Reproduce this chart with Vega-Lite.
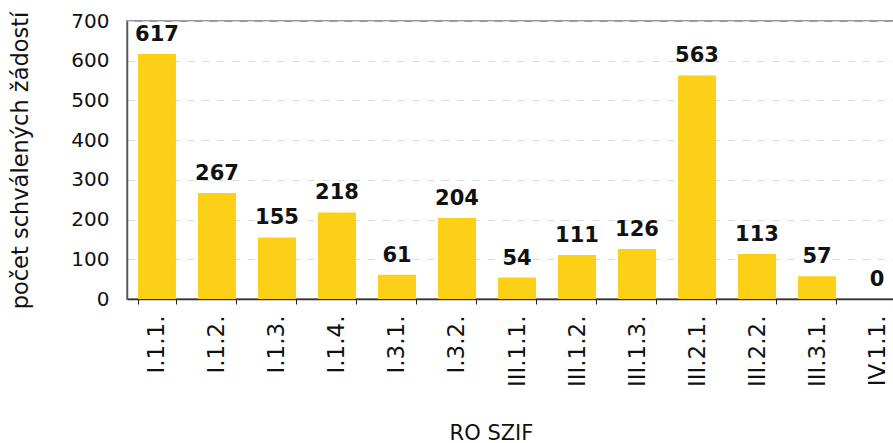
{
  "$schema": "https://vega.github.io/schema/vega-lite/v6.json",
  "autosize": "none",
  "width": 780,
  "height": 278,
  "padding": {"left": 127, "top": 21, "right": 0, "bottom": 144},
  "background": "white",
  "config": {
    "font": "DejaVu Sans",
    "view": {"stroke": "#999999", "strokeWidth": 2}
  },
  "data": {
    "values": [
      {"ro": "I.1.1.", "n": 617},
      {"ro": "I.1.2.", "n": 267},
      {"ro": "I.1.3.", "n": 155},
      {"ro": "I.1.4.", "n": 218},
      {"ro": "I.3.1.", "n": 61},
      {"ro": "I.3.2.", "n": 204},
      {"ro": "III.1.1.", "n": 54},
      {"ro": "III.1.2.", "n": 111},
      {"ro": "III.1.3.", "n": 126},
      {"ro": "III.2.1.", "n": 563},
      {"ro": "III.2.2.", "n": 113},
      {"ro": "III.3.1.", "n": 57},
      {"ro": "IV.1.1.", "n": 0}
    ]
  },
  "encoding": {
    "x": {
      "field": "ro",
      "type": "nominal",
      "sort": null,
      "scale": {"paddingInner": 0.367, "paddingOuter": 0.183},
      "axis": {
        "title": "RO SZIF",
        "titleFont": "DejaVu Sans",
        "titleFontSize": 21,
        "titleFontWeight": "normal",
        "titleColor": "#111111",
        "titleX": 364,
        "titleY": 140,
        "titleAlign": "center",
        "titleBaseline": "alphabetic",
        "labelAngle": -90,
        "labelAlign": "right",
        "labelBaseline": "middle",
        "labelFontSize": 23,
        "labelColor": "#111111",
        "labelPadding": 11,
        "tickBand": "extent",
        "tickSize": 5,
        "tickColor": "#222222",
        "domainColor": "#333333",
        "domainWidth": 1.5,
        "grid": false
      }
    },
    "y": {
      "field": "n",
      "type": "quantitative",
      "scale": {"domain": [0, 700], "nice": false},
      "axis": {
        "title": "počet schválených žádostí",
        "titleFont": "DejaVu Sans",
        "titleFontSize": 22.5,
        "titleFontWeight": "normal",
        "titleColor": "#111111",
        "titleX": -100,
        "titleY": 139,
        "titleAlign": "center",
        "titleBaseline": "alphabetic",
        "values": [0, 100, 200, 300, 400, 500, 600, 700],
        "labelFontSize": 20,
        "labelColor": "#111111",
        "labelPadding": 18,
        "ticks": false,
        "domainColor": "#555555",
        "domainWidth": 1.5,
        "grid": true,
        "gridColor": "#d3dcd9",
        "gridDash": [7, 8],
        "gridWidth": 1
      }
    }
  },
  "layer": [
    {"mark": {"type": "bar", "color": "#FCD017"}},
    {
      "mark": {"type": "text", "fontSize": 21, "fontWeight": "bold", "color": "#111111", "baseline": "alphabetic", "dy": -13},
      "encoding": {"text": {"field": "n", "type": "quantitative"}}
    }
  ]
}
